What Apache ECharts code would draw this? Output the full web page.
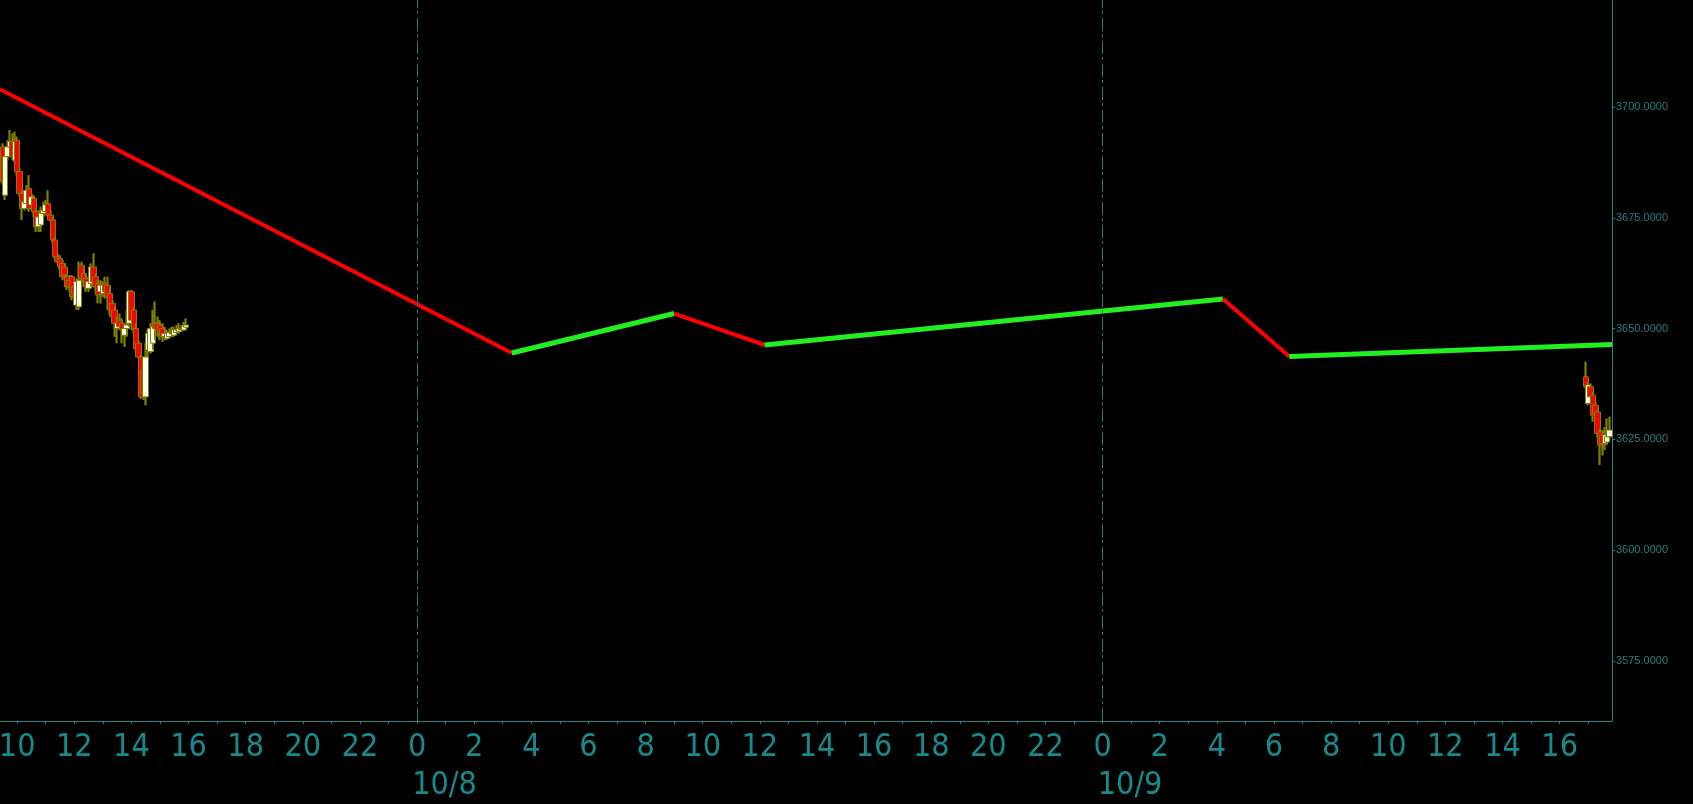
<!DOCTYPE html>
<html><head><meta charset="utf-8">
<script src="https://cdn.jsdelivr.net/npm/echarts@6/dist/echarts.min.js"></script>
<style>html,body{margin:0;padding:0;background:#000;}#c{width:1693px;height:804px;}</style>
</head><body><div id="c"></div>
<script>
// ---- data ----
const xStart = '2015-10-07T09:24:00Z';
const xEnd = '2015-10-09T17:50:00Z';
const leftStart = '2015-10-07T09:30:00Z';
const rightStart = '2015-10-09T16:55:00Z';
const barMinutes = 5;
// [open, close, low, high]
const leftOHLC = [
[3691.0,3683.1,3682.4,3691.8],[3680.1,3688.8,3679.0,3689.5],[3688.8,3691.0,3688.0,3692.5],[3691.0,3692.2,3689.5,3694.8],
[3692.2,3688.8,3688.0,3694.0],[3688.0,3692.2,3687.3,3694.4],[3692.5,3685.4,3684.6,3693.3],[3685.4,3680.5,3679.7,3686.1],
[3680.5,3677.1,3674.5,3681.2],[3677.1,3678.6,3676.7,3680.1],[3678.2,3681.2,3677.5,3682.4],[3681.6,3677.1,3676.4,3684.6],
[3677.9,3679.7,3676.7,3680.5],[3679.4,3676.4,3675.2,3680.1],[3676.4,3673.0,3671.8,3677.1],[3673.0,3675.2,3671.8,3676.7],
[3673.4,3676.0,3671.8,3677.5],[3676.0,3676.7,3675.2,3678.6],[3676.4,3677.9,3675.6,3679.0],[3678.2,3675.6,3675.2,3681.2],
[3675.6,3674.5,3674.1,3676.7],[3674.5,3670.0,3669.2,3675.2],[3670.0,3666.2,3665.8,3670.7],[3666.2,3665.1,3664.7,3667.0],
[3665.8,3663.9,3663.2,3666.6],[3664.7,3661.7,3660.9,3665.5],[3663.9,3662.1,3661.3,3664.7],[3661.7,3659.4,3658.7,3662.4],
[3660.9,3659.4,3658.3,3662.1],[3661.7,3657.2,3656.4,3662.1],[3659.4,3657.6,3656.1,3660.6],[3655.3,3660.6,3654.2,3661.3],
[3654.9,3660.9,3654.2,3665.1],[3664.3,3661.3,3660.2,3665.1],[3662.4,3660.9,3659.4,3663.9],[3661.3,3659.4,3658.3,3662.4],
[3659.1,3660.6,3658.3,3661.7],[3660.2,3663.9,3659.4,3664.7],[3663.9,3660.6,3659.8,3667.0],[3661.7,3659.4,3658.3,3662.4],
[3660.2,3657.6,3655.7,3660.9],[3658.3,3659.8,3655.7,3660.9],[3657.9,3659.8,3657.2,3660.6],[3660.2,3658.3,3656.8,3661.7],
[3659.8,3657.2,3654.2,3661.7],[3657.9,3654.2,3653.1,3659.4],[3655.7,3652.7,3651.2,3656.4],[3654.2,3651.2,3648.2,3654.9],
[3650.0,3651.2,3646.7,3652.7],[3651.9,3650.4,3649.7,3653.4],[3651.2,3649.7,3646.7,3652.3],[3648.5,3650.0,3645.9,3651.2],
[3650.0,3650.8,3648.2,3654.2],[3651.2,3658.3,3650.4,3658.7],[3658.3,3651.9,3649.7,3658.7],[3654.2,3650.0,3648.9,3654.9],
[3650.0,3645.5,3645.2,3651.2],[3646.7,3643.6,3643.3,3647.4],[3643.6,3634.6,3634.2,3644.4],[3640.6,3635.4,3633.9,3642.1],
[3634.6,3643.6,3632.7,3646.7],[3645.2,3648.9,3643.6,3649.7],[3644.8,3650.0,3644.4,3651.2],[3646.7,3650.4,3645.2,3654.2],
[3651.2,3650.0,3647.4,3656.1],[3651.2,3649.7,3648.2,3652.7],[3650.8,3648.9,3647.4,3651.9],[3650.0,3648.2,3647.0,3651.2],
[3648.2,3648.9,3647.4,3650.4],[3647.8,3648.9,3647.4,3649.7],[3648.2,3649.1,3647.8,3650.0],[3649.3,3648.8,3648.2,3650.4],
[3648.5,3649.7,3648.2,3650.4],[3649.1,3649.7,3648.8,3650.8],[3649.3,3650.0,3648.9,3651.2],[3650.0,3649.7,3649.3,3650.8],
[3649.7,3650.6,3649.5,3651.5],[3650.3,3650.8,3650.0,3652.3]
];
const rightOHLC = [
[3639.1,3636.9,3636.5,3642.5],[3633.1,3637.3,3632.7,3638.0],[3636.9,3634.6,3633.5,3637.6],[3635.0,3630.5,3629.0,3635.7],
[3632.7,3630.8,3628.2,3633.5],[3631.2,3626.3,3625.2,3632.0],[3626.7,3623.7,3619.2,3627.5],[3626.0,3624.1,3621.4,3627.1],
[3624.1,3626.0,3622.6,3627.8],[3624.4,3625.6,3623.7,3629.7],[3625.6,3627.1,3624.8,3630.1]
];
// zigzag pivots
const pivotTimes = ['2015-10-07T09:24:00Z','2015-10-08T03:19:00Z','2015-10-08T09:00:00Z','2015-10-08T12:10:00Z',
                    '2015-10-09T04:13:00Z','2015-10-09T06:32:00Z','2015-10-09T17:50:00Z'];
const pivotValues = [3704.0, 3644.5, 3653.4, 3646.3, 3656.7, 3643.7, 3646.4];
// axes
const yMin = 3561.46, yMax = 3724.14;
const yTicks = [3575, 3600, 3625, 3650, 3675, 3700];
const firstTickHour = '2015-10-07T10:00:00Z';
const lastTickHour = '2015-10-09T17:00:00Z';
const dayStarts = ['2015-10-08T00:00:00Z', '2015-10-09T00:00:00Z'];
const dayLabels = ['10/8', '10/9'];

// ---- build ----
const HOUR = 3600000;
const ts = s => Date.parse(s);
function candles(start, arr) {
  const t0 = ts(start);
  return arr.map((d, i) => [t0 + i * barMinutes * 60000, d[0], d[1], d[2], d[3]]);
}
const candleData = candles(leftStart, leftOHLC).concat(candles(rightStart, rightOHLC));

const tickVals = [], labelVals = [];
for (let t = ts(firstTickHour); t <= ts(lastTickHour); t += HOUR) {
  tickVals.push(t);
  if (new Date(t).getUTCHours() % 2 === 0) labelVals.push(t);
}
const dayMap = {};
dayStarts.forEach((d, i) => { dayMap[ts(d)] = dayLabels[i]; });

const teal = '#178b8b';
const olive = '#808000';
const font = '"Liberation Sans Narrow", "DejaVu Sans Condensed", sans-serif';
const series = [{
  // wick layer
  type: 'candlestick', data: candleData, encode: { x: 0, y: [1, 2, 3, 4] },
  barWidth: 1, silent: true, z: 1,
  itemStyle: { color: olive, color0: olive, borderColor: olive, borderColor0: olive, borderWidth: 2.2 },
  markLine: {
    silent: true, symbol: ['none', 'none'], animation: false,
    label: { show: false },
    lineStyle: { color: '#1e7b7b', type: [13, 4, 3, 3], width: 1 },
    emphasis: { disabled: true },
    data: dayStarts.map(d => ({ xAxis: ts(d) }))
  }
}, {
  // body layer
  type: 'candlestick', data: candleData, encode: { x: 0, y: [1, 2, 3, 4] },
  barWidth: 6, silent: true, z: 2,
  itemStyle: { color: '#fffff0', color0: '#ff0000', borderColor: olive, borderColor0: olive, borderWidth: 1 }
}];
for (let k = 0; k < pivotTimes.length - 1; k++) {
  const up = pivotValues[k + 1] > pivotValues[k];
  series.push({
    type: 'line', symbol: 'none', silent: true, z: 3,
    data: [[ts(pivotTimes[k]), pivotValues[k]], [ts(pivotTimes[k + 1]), pivotValues[k + 1]]],
    lineStyle: { color: up ? '#22ee22' : '#ff0000', width: up ? 5 : 4 }
  });
}

const chart = echarts.init(document.getElementById('c'), null, { renderer: 'canvas' });
chart.setOption({
  animation: false,
  backgroundColor: '#000000',
  grid: { left: 0, right: 81, top: 0, bottom: 83, containLabel: false, outerBoundsMode: 'none' },
  xAxis: {
    type: 'value', min: ts(xStart), max: ts(xEnd), scale: true,
    axisLine: { show: true, lineStyle: { color: '#2b8585', width: 1 } },
    axisTick: { show: true, length: 3, lineStyle: { color: '#2b8585' }, customValues: tickVals },
    splitLine: { show: false },
    axisLabel: {
      customValues: labelVals, margin: 8, hideOverlap: false,
      color: teal, fontFamily: font, fontSize: 32,
      formatter: function (v) {
        const h = new Date(v).getUTCHours();
        if (dayMap[v]) return '{a|' + h + '}\n{b|' + dayMap[v] + '}';
        return '{a|' + h + '}';
      },
      rich: {
        a: { fontSize: 32, lineHeight: 38, color: teal, align: 'center', fontFamily: font },
        b: { fontSize: 32, lineHeight: 38, color: teal, align: 'center', padding: [0, 0, 0, 55], fontFamily: font }
      }
    }
  },
  yAxis: {
    type: 'value', position: 'right', min: yMin, max: yMax, scale: true,
    axisLine: { show: true, lineStyle: { color: '#2b8585', width: 1 } },
    axisTick: { show: true, length: 3, lineStyle: { color: '#2b8585' }, customValues: yTicks },
    splitLine: { show: false },
    axisLabel: {
      customValues: yTicks, margin: 4, color: '#2a7f7f', fontSize: 11,
      fontFamily: '"Liberation Sans", sans-serif',
      formatter: v => Number(v).toFixed(4)
    }
  },
  series: series
});
</script></body></html>
